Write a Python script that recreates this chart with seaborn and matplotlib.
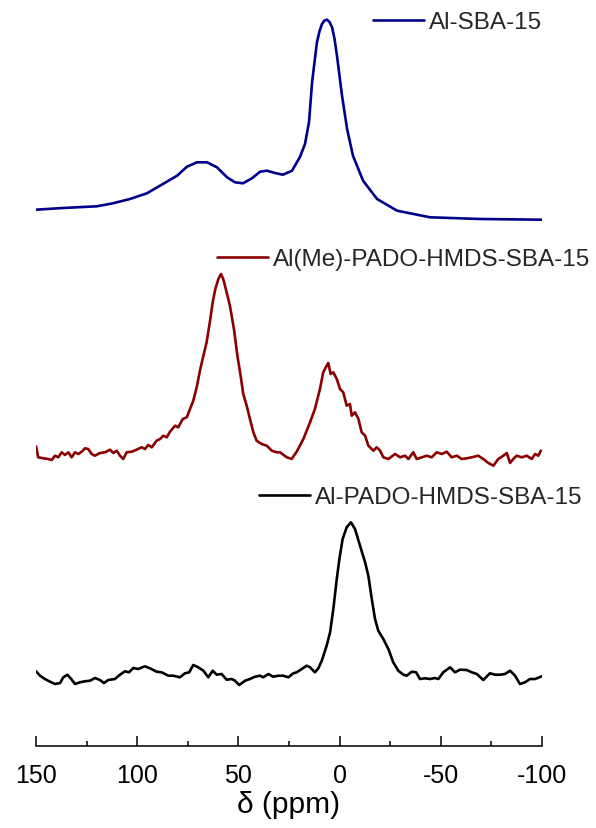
import numpy as np
import pandas as pd
import matplotlib
matplotlib.use("Agg")
import matplotlib.pyplot as plt
import seaborn as sns
from matplotlib.lines import Line2D
from matplotlib.ticker import MultipleLocator

# ---------------- data ----------------
labels = ["Al-SBA-15", "Al(Me)-PADO-HMDS-SBA-15", "Al-PADO-HMDS-SBA-15"]
colors = ["#00008B", "#8B0000", "#000000"]
offsets = [527, 290, 64]

blue_ppm = [150.0, 136.7, 119.9, 112.0, 103.6, 95.2, 87.3, 80.3, 75.4, 70.5,
            65.5, 60.6, 55.6, 51.7, 47.7, 43.3, 39.3, 35.9, 31.9, 28.0,
            23.5, 19.6, 17.1, 15.1, 13.6, 11.2, 9.9, 8.7, 7.5, 6.2, 5.0, 3.7, 2.5, 1.3,
            -1.2, -3.7, -6.6, -11.6, -18.5, -28.4, -44.7, -69.4, -100.0]
blue_int = [9.3, 11, 12.7, 15.7, 20, 25.7, 35, 43.3, 52.3, 56.7,
            56.7, 51.7, 41.7, 36.7, 35.7, 40.7, 47.3, 48.3, 46, 44.3,
            48.3, 62, 75, 97, 136.7, 176.7, 188, 195, 198.5, 199.3, 197, 191.7, 180, 163.3,
            123.3, 90, 63.3, 38.3, 20, 8.3, 1.7, 0, -0.7]

red_ppm = [150.0, 148.9, 146.4, 143.9, 142.2, 140.6, 139.0, 137.3, 135.7, 134.0,
           132.4, 130.7, 129.1, 127.4, 125.8, 124.2, 122.5, 120.9, 118.4, 115.9,
           113.4, 111.8, 110.1, 108.5, 106.9, 105.2, 102.7, 100.3, 97.8, 96.2,
           94.5, 92.8, 90.4, 88.7, 87.1, 85.4, 83.8, 81.3, 79.7, 77.5,
           75.5, 73.9, 72.3, 70.6, 69.0, 67.3, 65.7, 64.0, 62.7, 61.4,
           59.9, 58.6, 57.5, 55.8, 54.2, 52.2, 50.5, 48.9, 47.6, 45.9,
           44.3, 42.6, 41.0, 38.5, 36.0, 33.5, 31.1,
           29.4, 26.1, 23.7, 21.2, 17.9, 14.6, 12.2, 9.7, 8.1, 6.4,
           5.6, 4.4, 3.1, 1.4, -0.2, -1.8, -3.5, -5.1, -6.0, -7.6,
           -9.3, -10.9, -12.6, -14.2, -16.7, -18.3, -20.0, -21.6, -24.1, -27.4,
           -29.9, -32.3, -34.0, -36.4, -38.1, -40.6, -43.0, -45.5, -48.0, -50.5,
           -52.9, -55.4, -57.9, -60.3, -62.8, -65.3, -68.5, -71.0, -73.5, -76.0,
           -78.4, -80.9, -82.6, -84.2, -85.8, -87.5, -90.0, -92.5, -94.9, -96.6,
           -98.2, -99.4]
red_int = [9.7, -1.3, -2.3, -3, -4, 0.3, -1.3, 3.7, 1, 3.7,
           -1.3, 3.7, 2, 4.3, 7.7, 7, 2, 0.3, 3, 3.7,
           6.3, 3, 5.3, 0.3, -3, 3.7, 4.3, 6.3, 8.7, 7,
           11, 8.7, 15.3, 17, 20.3, 18.7, 24.3, 30.3, 28.7, 37,
           38.7, 47, 55.3, 68.7, 85.3, 100.3, 113.7, 135.3, 153.7, 167,
           177, 182, 177, 163.7, 150.3, 127, 100.3, 80.3, 62, 50.3,
           37, 23.7, 15.3, 12, 10.3, 5.3, 3.7,
           3.7, -1.3, -3, 4.3, 17, 33.7, 47, 67, 83.7, 90.3,
           93, 82, 83.7, 77, 67, 63.7, 50.3, 52, 40.3, 43.7,
           37, 23.7, 20.3, 10.3, 5.3, 8.7, 5.3, -1.3, -3, 2,
           -1.3, 0.3, -3, 3.7, -3, -1.3, 0.3, -1.3, 3.7, 2,
           4.3, -1.3, 0.3, -3, -2.3, -1.3, 0.3, -3, -7, -9.7,
           -3, 0.3, 3, -7, -3, 0.3, -1.3, 0.3, -3, 2,
           0.3, 5.3]

black_ppm = [150.0, 148.0, 145.6, 143.1, 140.6, 138.1, 136.5, 134.5, 132.9, 130.7,
             128.3, 125.8, 123.3, 120.9, 118.4, 116.4, 114.3, 111.0, 108.5, 106.0,
             104.1, 101.9, 99.5, 96.2, 93.7, 90.4, 87.9, 84.6, 82.2, 78.9,
             76.4, 74.3, 72.3, 69.8, 67.3, 64.9, 62.7, 60.7, 58.3, 55.8,
             53.3, 51.7, 49.6, 46.7, 44.3, 41.8, 39.3, 37.7, 35.2, 32.8,
             30.3, 27.8, 25.3, 22.9,
             21.2, 18.7, 16.3, 14.6, 12.2, 10.5, 8.8, 6.4, 4.7, 3.1,
             1.4, 0.1, -1.5, -3.5, -5.6, -7.6, -10.1, -12.6, -14.2, -15.9,
             -17.5, -19.1, -21.6, -24.1, -26.5, -29.0, -31.5, -33.2, -35.6, -37.8,
             -39.7, -42.2, -44.7, -47.1, -48.8, -51.2, -54.6, -57.0, -59.5, -62.8,
             -65.3, -67.8, -71.0, -74.3, -76.8, -79.3, -81.7, -84.2, -86.7, -89.1,
             -91.6, -94.1, -96.6, -99.9]
black_int = [10.7, 6.3, 3, 0.3, -2, -1, 4.7, 7.3, 3.7, -2,
             -0.3, 0.7, 1.3, 4, 2, -1, 2, 3, 7.3, 10.7,
             9.7, 14, 13, 15.7, 13.7, 10.3, 9.7, 6.3, 6.3, 4.7,
             8.7, 9.7, 17, 14.7, 11.3, 4.7, 11.3, 7.3, 8, 2.3,
             3, 1.3, -3, 1.3, 3, 5.3, 6.3, 4.7, 8, 5.3,
             6.3, 6.3, 4.7, 8.7,
             9.7, 13, 16.3, 14.7, 9.7, 13.7, 21.3, 36.3, 49.7, 73,
             103, 123, 143, 154.7, 159.7, 153, 136.3, 119.7, 106.3, 83,
             63, 51.3, 43, 33, 19.7, 11.3, 7.3, 6.3, 10.3, 9.7,
             3, 3.7, 3, 4, 3, 9.7, 14.7, 9.7, 12.3, 12,
             9.7, 8, 2, 8.7, 7.3, 7.3, 8, 11.3, 6.3, -2,
             -0.3, 3, 3, 5.7]

xticks = [150, 100, 50, 0, -50, -100]

# ---------------- style ----------------
sns.set_theme(style="white")
plt.rcParams["font.family"] = ["Liberation Sans", "DejaVu Sans"]
plt.rcParams["axes.unicode_minus"] = False

fig = plt.figure(figsize=(5.96, 8.29), dpi=100)
ax = fig.add_axes([36 / 596, 82 / 829, 506 / 596, 747 / 829])

series = [(blue_ppm, blue_int), (red_ppm, red_int), (black_ppm, black_int)]
for (ppm, inten), off, col in zip(series, offsets, colors):
    df = pd.DataFrame({"ppm": ppm, "y": np.asarray(inten, dtype=float) + off})
    sns.lineplot(data=df, x="ppm", y="y", color=col, lw=1.9, ax=ax,
                 sort=False, estimator=None, legend=False)

ax.set_xlim(150, -100)
ax.set_ylim(0, 747)
for s in ["left", "right", "top"]:
    ax.spines[s].set_visible(False)
ax.spines["bottom"].set_color("black")
ax.spines["bottom"].set_linewidth(1.1)
ax.set_yticks([])
ax.set_xticks(xticks)
ax.xaxis.set_minor_locator(MultipleLocator(25))
ax.tick_params(axis="x", which="major", direction="in", length=7.5, width=1.1,
               color="black", labelsize=18, pad=12.5, labelcolor="black", bottom=True)
ax.tick_params(axis="x", which="minor", direction="in", length=3.5, width=1.1,
               color="black", bottom=True)
ax.set_xlabel("δ (ppm)", fontsize=21.5, color="black", labelpad=2)
ax.set_ylabel("")
ax.patch.set_alpha(0)

# legends
anchors = [(542 / 596, 1 - 23 / 829), (590 / 596, 1 - 260 / 829), (582 / 596, 1 - 498 / 829)]
legs = []
for lab, col, anc in zip(labels, colors, anchors):
    h = [Line2D([], [], color=col, lw=1.9)]
    leg = ax.legend(h, [lab], loc="center right", bbox_to_anchor=anc,
                    bbox_transform=fig.transFigure, frameon=False, fontsize=17.5,
                    handlelength=2.1, handletextpad=0.2, borderpad=0, borderaxespad=0)
    legs.append(leg)
for leg in legs[:-1]:
    ax.add_artist(leg)

fig.savefig("out.png", dpi=100, facecolor="white")
